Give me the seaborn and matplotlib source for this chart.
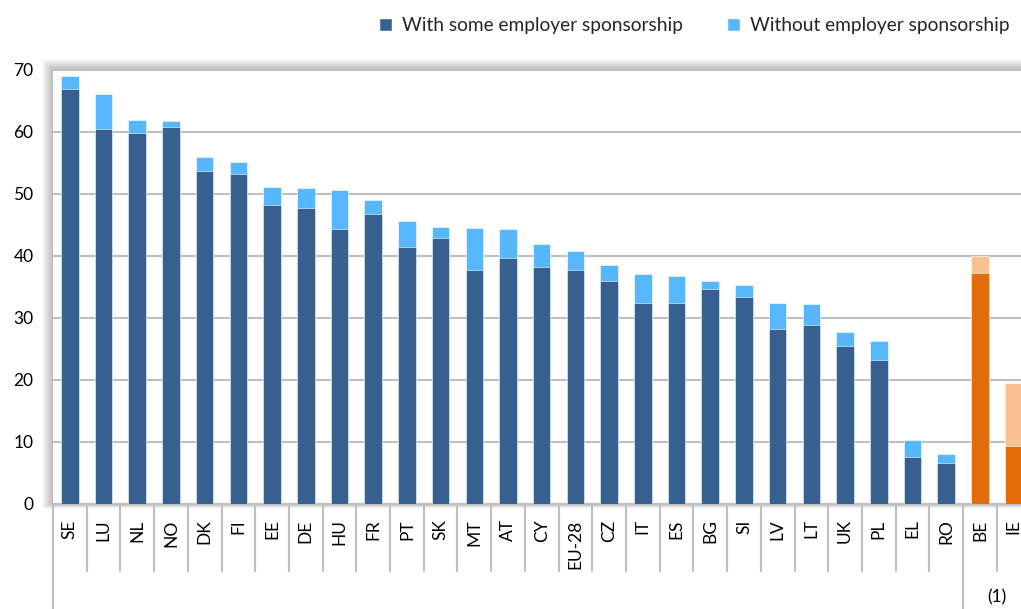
import matplotlib
matplotlib.use("Agg")
import matplotlib.pyplot as plt
import seaborn as sns
import pandas as pd
from matplotlib.patches import Rectangle
from matplotlib.transforms import blended_transform_factory

# Share of people with a supplementary pension (%), by country
countries = ["SE", "LU", "NL", "NO", "DK", "FI", "EE", "DE", "HU", "FR", "PT", "SK",
             "MT", "AT", "CY", "EU-28", "CZ", "IT", "ES", "BG", "SI", "LV", "LT", "UK",
             "PL", "EL", "RO", "BE", "IE"]
with_sponsorship = [67.0, 60.5, 59.8, 60.8, 53.7, 53.2, 48.2, 47.7, 44.4, 46.7, 41.4, 42.9,
                    37.8, 39.6, 38.2, 37.7, 36.0, 32.5, 32.5, 34.7, 33.4, 28.2, 28.9, 25.5,
                    23.3, 7.6, 6.6, 37.3, 9.4]
total = [69.1, 66.1, 61.9, 61.8, 55.9, 55.2, 51.2, 50.9, 50.6, 49.1, 45.7, 44.6,
         44.5, 44.3, 41.9, 40.8, 38.6, 37.1, 36.8, 36.0, 35.4, 32.4, 32.3, 27.8,
         26.3, 10.4, 8.0, 40.0, 19.5]
footnote_countries = ["BE", "IE"]
series_labels = ["With some employer sponsorship", "Without employer sponsorship"]
yticks = [0, 10, 20, 30, 40, 50, 60, 70]

DARK_BLUE, LIGHT_BLUE = "#36608F", "#56B7FF"
DARK_ORANGE, LIGHT_ORANGE = "#E36C0A", "#FAC090"
GRID = "#BFBFBF"

df = pd.DataFrame({"country": countries, "with": with_sponsorship, "total": total})
dark_pal = {c: (DARK_ORANGE if c in footnote_countries else DARK_BLUE) for c in countries}
light_pal = {c: (LIGHT_ORANGE if c in footnote_countries else LIGHT_BLUE) for c in countries}

sns.set_theme(style="white")
plt.rcParams["font.family"] = ["Lato", "DejaVu Sans"]

fig = plt.figure(figsize=(10.21, 6.09), dpi=100)
W, H = 1021, 609
ax = fig.add_axes([53 / W, 105 / H, 968 / W, 434 / H])

# soft outer shadow around the plotting area
for k in range(1, 12):
    fig.patches.append(Rectangle(
        ((53 - k) / W, (105 - k * 0.4) / H), (968 + 2 * k) / W, (434 + k * 1.4) / H,
        transform=fig.transFigure, facecolor="black", alpha=0.025, edgecolor="none",
        zorder=-5))

# stacked bars: the total drawn first, the sponsored part on top of it
sns.barplot(data=df, x="country", y="total", hue="country", palette=light_pal,
            order=countries, width=0.52, saturation=1, legend=False, ax=ax, zorder=2,
            edgecolor="white", linewidth=0.4)
sns.barplot(data=df, x="country", y="with", hue="country", palette=dark_pal,
            order=countries, width=0.52, saturation=1, legend=False, ax=ax, zorder=3,
            edgecolor="white", linewidth=0.4)

ax.set_facecolor("white")
ax.set_xlim(-0.5, 28.22)
ax.set_ylim(0, 70)
ax.set_yticks(yticks)
ax.yaxis.grid(True, color=GRID, linewidth=1.5)
ax.set_axisbelow(True)
for s in ["top", "right", "left"]:
    ax.spines[s].set_visible(False)
ax.spines["bottom"].set_color(GRID)
ax.spines["bottom"].set_linewidth(1.5)
ax.set_xlabel("")
ax.set_ylabel("")
ax.tick_params(axis="y", length=0, pad=14, labelsize=12.5, labelcolor="black")
ax.tick_params(axis="x", length=0, pad=11, labelsize=12.5, labelcolor="black")
plt.setp(ax.get_xticklabels(), rotation=90, va="top")

# category separators below the axis
trans = blended_transform_factory(ax.transData, ax.transAxes)
n = len(countries)
group_break = countries.index(footnote_countries[0]) - 0.5
for i in range(n):
    xb = i - 0.5
    bottom = -0.245 if (i == 0 or xb == group_break) else -0.155
    ax.plot([xb, xb], [0, bottom], transform=trans, color=GRID, linewidth=1.5,
            clip_on=False, zorder=1)
ax.text(group_break + 1.0, -0.215, "(1)", transform=trans, ha="center", va="center",
        fontsize=12.5, color="black")

# legend
handles = [Rectangle((0, 0), 1, 1, facecolor=DARK_BLUE),
           Rectangle((0, 0), 1, 1, facecolor=LIGHT_BLUE)]
fig.legend(handles, series_labels, loc="upper right", bbox_to_anchor=(1.006, 1.0),
           ncol=2, frameon=False, fontsize=13.8, handlelength=0.65, handleheight=0.65,
           handletextpad=0.55, columnspacing=2.3, borderaxespad=0.5)

fig.savefig("out.png", dpi=100)
